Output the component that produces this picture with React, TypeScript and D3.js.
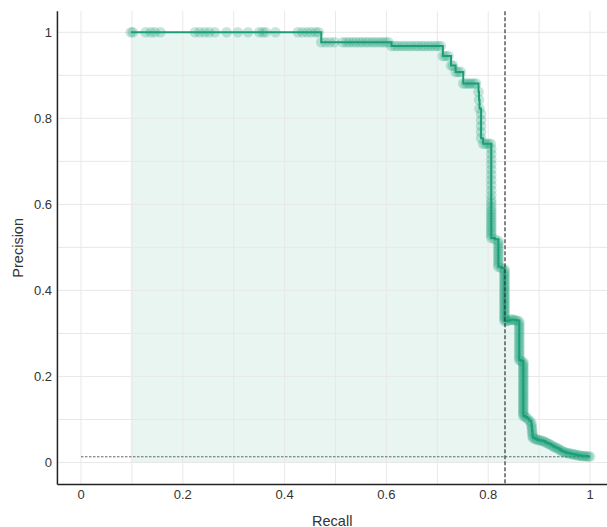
import React from "react";
import { scaleLinear, line, area, curveStepAfter, range } from "d3";

// precision-recall points, [recall, precision], in threshold order
const topPoints: [number, number][] = [
  [0.098, 1], [0.102, 1], [0.127, 1], [0.137, 1], [0.145, 1], [0.156, 1],
  [0.224, 1], [0.233, 1], [0.243, 1], [0.252, 1], [0.263, 1], [0.286, 1],
  [0.308, 1], [0.328, 1], [0.35, 1], [0.357, 1], [0.363, 1], [0.382, 1],
  [0.426, 1], [0.435, 1], [0.444, 1], [0.452, 1], [0.461, 1], [0.467, 1],
  [0.472, 0.977], [0.48, 0.977], [0.489, 0.977], [0.498, 0.977], [0.514, 0.977],
  [0.521, 0.977], [0.527, 0.977], [0.534, 0.977], [0.54, 0.977], [0.547, 0.977],
  [0.553, 0.977], [0.56, 0.977], [0.566, 0.977], [0.573, 0.977], [0.579, 0.977],
  [0.586, 0.977], [0.592, 0.977], [0.598, 0.977], [0.604, 0.977],
  [0.61, 0.968], [0.617, 0.968], [0.623, 0.968], [0.63, 0.968], [0.636, 0.968],
  [0.643, 0.968], [0.649, 0.968], [0.656, 0.968], [0.662, 0.968], [0.669, 0.968],
  [0.675, 0.968], [0.682, 0.968], [0.688, 0.968], [0.695, 0.968], [0.701, 0.968],
  [0.707, 0.968],
  [0.711, 0.945], [0.716, 0.945], [0.722, 0.945],
  [0.727, 0.923], [0.731, 0.923],
  [0.736, 0.908], [0.741, 0.908], [0.746, 0.908],
  [0.751, 0.881], [0.756, 0.881], [0.761, 0.881], [0.766, 0.881], [0.771, 0.881], [0.776, 0.881],
  [0.781, 0.862], [0.782, 0.843], [0.783, 0.823],
  [0.786, 0.81], [0.786, 0.796], [0.786, 0.782], [0.786, 0.768], [0.786, 0.754],
  [0.79, 0.741], [0.795, 0.741], [0.8, 0.741], [0.805, 0.741],
];

const midPoints: [number, number][] = [
  [0.806, 0.729], [0.806, 0.717], [0.806, 0.705], [0.806, 0.693], [0.806, 0.681],
  [0.806, 0.669], [0.806, 0.657], [0.806, 0.645], [0.806, 0.633], [0.806, 0.621],
  [0.806, 0.611], [0.806, 0.603], [0.806, 0.595], [0.806, 0.588],
  [0.806, 0.582], [0.806, 0.576], [0.806, 0.57], [0.806, 0.564], [0.806, 0.558],
  [0.806, 0.552], [0.806, 0.546], [0.806, 0.54], [0.806, 0.534], [0.806, 0.528],
  [0.806, 0.522],
  [0.813, 0.519], [0.82, 0.515],
  [0.82, 0.509], [0.82, 0.503], [0.82, 0.497], [0.82, 0.491], [0.82, 0.485],
  [0.82, 0.479], [0.82, 0.473], [0.82, 0.467], [0.82, 0.461], [0.82, 0.455],
  [0.826, 0.452], [0.832, 0.449],
  [0.832, 0.444], [0.832, 0.439], [0.832, 0.434], [0.832, 0.429], [0.832, 0.424],
  [0.832, 0.419], [0.832, 0.414], [0.832, 0.409], [0.832, 0.404], [0.832, 0.399],
  [0.832, 0.394], [0.832, 0.389], [0.832, 0.384], [0.832, 0.379], [0.832, 0.374],
  [0.832, 0.369], [0.832, 0.364], [0.832, 0.359], [0.832, 0.354], [0.832, 0.349],
  [0.832, 0.344], [0.832, 0.339], [0.832, 0.334], [0.832, 0.329],
  [0.836, 0.329], [0.84, 0.33], [0.844, 0.332], [0.848, 0.332], [0.852, 0.331],
  [0.856, 0.33], [0.861, 0.328],
];

const lowPoints: [number, number][] = [
  [0.861, 0.322], [0.861, 0.316], [0.861, 0.31], [0.861, 0.304], [0.861, 0.298],
  [0.861, 0.292], [0.861, 0.286], [0.861, 0.28], [0.861, 0.274], [0.861, 0.268],
  [0.861, 0.262], [0.861, 0.256], [0.861, 0.25], [0.861, 0.244], [0.861, 0.238],
  [0.865, 0.236], [0.869, 0.233],
  [0.869, 0.228], [0.869, 0.223], [0.869, 0.218], [0.869, 0.213], [0.869, 0.208],
  [0.869, 0.203], [0.869, 0.198], [0.869, 0.193], [0.869, 0.188], [0.869, 0.183],
  [0.869, 0.178], [0.869, 0.173], [0.869, 0.168], [0.869, 0.163], [0.869, 0.158],
  [0.869, 0.153], [0.869, 0.148], [0.869, 0.143], [0.869, 0.138], [0.869, 0.133],
  [0.869, 0.128], [0.869, 0.123], [0.869, 0.118], [0.869, 0.113], [0.869, 0.108],
  [0.873, 0.106], [0.877, 0.102], [0.881, 0.097], [0.885, 0.092], [0.885, 0.086],
  [0.886, 0.08], [0.886, 0.074], [0.887, 0.068], [0.887, 0.062], [0.888, 0.057],
  [0.892, 0.055], [0.896, 0.053], [0.9, 0.052], [0.904, 0.051], [0.908, 0.05],
  [0.912, 0.047], [0.916, 0.045], [0.92, 0.043], [0.924, 0.04], [0.928, 0.037],
  [0.932, 0.035], [0.936, 0.033], [0.94, 0.03], [0.944, 0.027], [0.948, 0.025],
  [0.952, 0.023], [0.956, 0.022], [0.96, 0.021], [0.964, 0.02], [0.968, 0.019],
  [0.972, 0.018], [0.976, 0.017], [0.98, 0.016], [0.984, 0.015], [0.988, 0.015],
  [0.992, 0.015], [0.996, 0.014], [1.0, 0.014],
];

const xTicks = [0, 0.2, 0.4, 0.6, 0.8, 1];
const yTicks = [0, 0.2, 0.4, 0.6, 0.8, 1];
const thresholdRecall = 0.833; // chosen operating point
const baselinePrecision = 0.0133; // share of positives

const WIDTH = 607;
const HEIGHT = 527;
const GREEN = "#1b9e77";
const FONT = "'Liberation Sans', Arial, Helvetica, sans-serif";

export default function App() {
  const points = [...topPoints, ...midPoints, ...lowPoints];

  // scales
  const x = scaleLinear().domain([0, 1]).range([81, 590]);
  const y = scaleLinear().domain([0, 1]).range([462.5, 32.3]);

  const left = x(-0.0463);
  const right = WIDTH;
  const top = y(1.049);
  const bottom = y(-0.051);

  const grid = range(0, 1.01, 0.1);

  const pathLine = line<[number, number]>()
    .x(d => x(d[0]))
    .y(d => y(d[1]))
    .curve(curveStepAfter);

  const pathArea = area<[number, number]>()
    .x(d => x(d[0]))
    .y0(y(0))
    .y1(d => y(d[1]))
    .curve(curveStepAfter);

  return (
    <svg
      width={WIDTH}
      height={HEIGHT}
      style={{ position: "absolute", left: 0, top: 0, fontFamily: FONT }}
    >
      {/* fill under the curve */}
      <path d={pathArea(points) || ""} fill={GREEN} fillOpacity={0.1} />

      {/* grid */}
      {grid.map((g, i) => (
        <g key={i}>
          <line x1={x(g)} x2={x(g)} y1={top} y2={bottom} stroke="#e8e8e8" strokeWidth={1} />
          <line x1={left} x2={right} y1={y(g)} y2={y(g)} stroke="#e8e8e8" strokeWidth={1} />
        </g>
      ))}

      {/* baseline */}
      <line
        x1={x(0)}
        x2={x(1)}
        y1={y(baselinePrecision)}
        y2={y(baselinePrecision)}
        stroke="#444"
        strokeWidth={0.8}
        strokeDasharray="2.5,1.5"
      />

      {/* curve */}
      {points.map((d, i) => (
        <circle key={i} cx={x(d[0])} cy={y(d[1])} r={5.3} fill={GREEN} fillOpacity={0.26} />
      ))}
      <path d={pathLine(points) || ""} fill="none" stroke={GREEN} strokeWidth={2} />

      {/* threshold */}
      <line
        x1={x(thresholdRecall)}
        x2={x(thresholdRecall)}
        y1={top}
        y2={bottom}
        stroke="#333"
        strokeWidth={1.2}
        strokeDasharray="4,2"
      />

      {/* axes */}
      <line x1={left} x2={left} y1={top} y2={bottom} stroke="#222" strokeWidth={1.5} />
      <line x1={left} x2={right} y1={bottom} y2={bottom} stroke="#222" strokeWidth={1.5} />

      {yTicks.map((t, i) => (
        <text key={i} x={52} y={y(t)} dy="0.36em" textAnchor="end" fontSize={13} fill="#333">
          {t}
        </text>
      ))}
      {xTicks.map((t, i) => (
        <text key={i} x={x(t)} y={498.5} textAnchor="middle" fontSize={13} fill="#333">
          {t}
        </text>
      ))}

      <text x={(left + right) / 2} y={525.5} textAnchor="middle" fontSize={14.5} fill="#333">
        Recall
      </text>
      <text
        transform={`translate(23, ${(top + bottom) / 2}) rotate(-90)`}
        textAnchor="middle"
        fontSize={14.5}
        fill="#333"
      >
        Precision
      </text>
    </svg>
  );
}
